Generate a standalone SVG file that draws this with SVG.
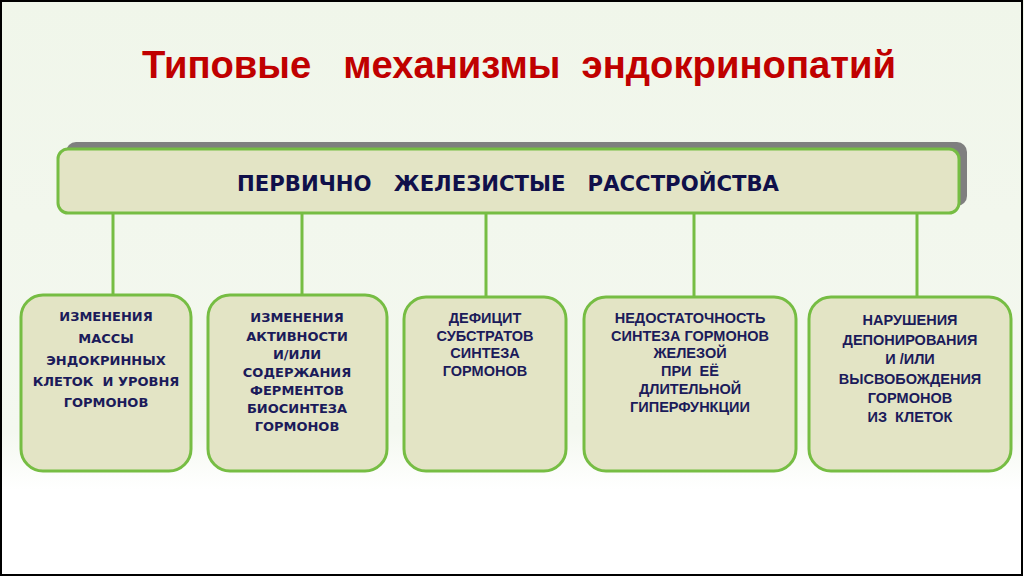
<svg xmlns="http://www.w3.org/2000/svg" width="1024" height="576" viewBox="0 0 1024 576">
<defs>
<linearGradient id="bg" x1="0" y1="0" x2="0" y2="1">
<stop offset="0" stop-color="#f0f6ea"/>
<stop offset="0.75" stop-color="#f4f8f0"/>
<stop offset="0.85" stop-color="#ffffff"/>
<stop offset="1" stop-color="#ffffff"/>
</linearGradient>
<style>
.box{fill:#e3e4c5;stroke:#76bd43;stroke-width:3}
.con{stroke:#76bd43;stroke-width:3;fill:none}
.g{font-family:"DejaVu Sans",sans-serif;font-weight:bold;font-size:13px;fill:#1b1b5a;text-anchor:middle}
.a{font-family:"Liberation Sans",Arial,sans-serif;font-weight:bold;font-size:14.5px;fill:#1b1b5a;text-anchor:middle}
</style>
</defs>
<rect x="0" y="0" width="1024" height="576" fill="url(#bg)"/>
<rect x="1" y="1" width="1021" height="574" fill="none" stroke="#000" stroke-width="2"/>
<text x="519" y="78" font-family="Liberation Sans,Arial,sans-serif" font-weight="bold" font-size="39" fill="#c00000" text-anchor="middle" textLength="754" lengthAdjust="spacingAndGlyphs" xml:space="preserve">Типовые   механизмы  эндокринопатий</text>
<g id="connectors">
<line class="con" x1="113" y1="212" x2="113" y2="295"/>
<line class="con" x1="302" y1="212" x2="302" y2="295"/>
<line class="con" x1="486" y1="212" x2="486" y2="297"/>
<line class="con" x1="694" y1="212" x2="694" y2="297"/>
<line class="con" x1="917" y1="212" x2="917" y2="297"/>
</g>
<g id="top">
<rect x="66" y="142" width="901" height="64" rx="10" fill="#7f7f7f"/>
<rect class="box" x="58" y="149" width="901" height="64" rx="10"/>
<text x="508" y="191" font-family="DejaVu Sans,sans-serif" font-weight="bold" font-size="22" fill="#10104a" text-anchor="middle" textLength="542" lengthAdjust="spacingAndGlyphs" xml:space="preserve">ПЕРВИЧНО   ЖЕЛЕЗИСТЫЕ   РАССТРОЙСТВА</text>
</g>
<g id="n1">
<rect class="box" x="21" y="295" width="170" height="176" rx="22"/>
<text class="g" x="106" y="321">ИЗМЕНЕНИЯ</text>
<text class="g" x="106" y="343">МАССЫ</text>
<text class="g" x="106" y="365">ЭНДОКРИННЫХ</text>
<text class="g" x="106" y="386" xml:space="preserve">КЛЕТОК  И УРОВНЯ</text>
<text class="g" x="106" y="407">ГОРМОНОВ</text>
</g>
<g id="n2">
<rect class="box" x="208" y="295" width="179" height="176" rx="22"/>
<text class="g" x="297" y="322">ИЗМЕНЕНИЯ</text>
<text class="g" x="297" y="341">АКТИВНОСТИ</text>
<text class="g" x="297" y="359">И/ИЛИ</text>
<text class="g" x="297" y="377">СОДЕРЖАНИЯ</text>
<text class="g" x="297" y="395">ФЕРМЕНТОВ</text>
<text class="g" x="297" y="413">БИОСИНТЕЗА</text>
<text class="g" x="297" y="431">ГОРМОНОВ</text>
</g>
<g id="n3">
<rect class="box" x="404" y="297" width="162" height="174" rx="22"/>
<text class="a" x="485" y="323">ДЕФИЦИТ</text>
<text class="a" x="485" y="341">СУБСТРАТОВ</text>
<text class="a" x="485" y="358">СИНТЕЗА</text>
<text class="a" x="485" y="376">ГОРМОНОВ</text>
</g>
<g id="n4">
<rect class="box" x="584" y="297" width="212" height="174" rx="22"/>
<text class="a" x="690" y="323">НЕДОСТАТОЧНОСТЬ</text>
<text class="a" x="690" y="341">СИНТЕЗА ГОРМОНОВ</text>
<text class="a" x="690" y="358">ЖЕЛЕЗОЙ</text>
<text class="a" x="690" y="376" xml:space="preserve">ПРИ  ЕЁ</text>
<text class="a" x="690" y="394">ДЛИТЕЛЬНОЙ</text>
<text class="a" x="690" y="412">ГИПЕРФУНКЦИИ</text>
</g>
<g id="n5">
<rect class="box" x="809" y="297" width="202" height="174" rx="22"/>
<text class="a" x="910" y="325">НАРУШЕНИЯ</text>
<text class="a" x="910" y="345">ДЕПОНИРОВАНИЯ</text>
<text class="a" x="910" y="364">И /ИЛИ</text>
<text class="a" x="910" y="384">ВЫСВОБОЖДЕНИЯ</text>
<text class="a" x="910" y="403">ГОРМОНОВ</text>
<text class="a" x="910" y="422" xml:space="preserve">ИЗ  КЛЕТОК</text>
</g>
</svg>
